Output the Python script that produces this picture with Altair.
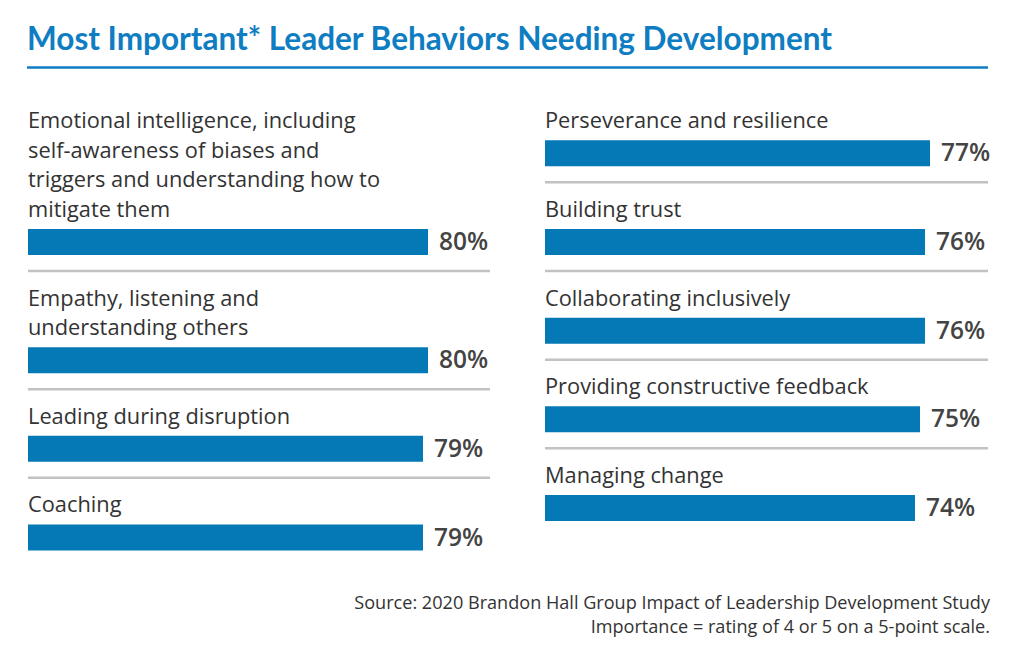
import altair as alt
import pandas as pd

# ---------------- data ----------------
title_text = "Most Important* Leader Behaviors Needing Development"

left_labels = [
    ["Emotional intelligence, including", "self-awareness of biases and",
     "triggers and understanding how to", "mitigate them"],
    ["Empathy, listening and", "understanding others"],
    ["Leading during disruption"],
    ["Coaching"],
]
left_values = [80, 80, 79, 79]

right_labels = [
    ["Perseverance and resilience"],
    ["Building trust"],
    ["Collaborating inclusively"],
    ["Providing constructive feedback"],
    ["Managing change"],
]
right_values = [77, 76, 76, 75, 74]

source_lines = [
    "Source: 2020 Brandon Hall Group Impact of Leadership Development Study",
    "Importance = rating of 4 or 5 on a 5-point scale.",
]

# ---------------- layout (in scale units) ----------------
BLUE = "#0479b6"
TITLE_BLUE = "#0f7dc1"
GRAY_LINE = "#c2c2c2"
TEXT = "#333333"
PCT = "#444444"
TITLE_FONT = "Lato"
BODY_FONT = "Open Sans"

col_offsets = [0.0, 103.4]      # x offset of each column (percent units)
col_widths = [92.4, 88.6]       # separator length of each column

bar_rows, text_rows, sep_rows = [], [], []
for c, (labels, values) in enumerate([(left_labels, left_values), (right_labels, right_values)]):
    s = 0.0
    n_items = len(labels)
    for k, (lines, v) in enumerate(zip(labels, values)):
        n = len(lines)
        for i, ln in enumerate(lines):
            text_rows.append({"x": col_offsets[c], "y": s + i, "t": ln})
        ybar = s + n - 1 + 1.12
        bar_rows.append({"x0": col_offsets[c], "x1": col_offsets[c] + v, "y": ybar,
                         "lab": f"{v}%"})
        if k < n_items - 1:
            sep_rows.append({"x0": col_offsets[c], "x1": col_offsets[c] + col_widths[c],
                             "y": ybar + 0.98})
        s += n + 2

bars_df = pd.DataFrame(bar_rows)
text_df = pd.DataFrame(text_rows)
sep_df = pd.DataFrame(sep_rows)

W, H = 1024, 670
xscale = alt.Scale(domain=[-28 / 5, (W - 28) / 5], nice=False, zero=False)
yscale = alt.Scale(domain=[-117 / 30, (H - 117) / 30], nice=False, zero=False, reverse=True)

X = lambda f: alt.X(f, type="quantitative", scale=xscale, axis=None)
Y = lambda f: alt.Y(f, type="quantitative", scale=yscale, axis=None)

bars = alt.Chart(bars_df).mark_bar(color=BLUE, size=26).encode(
    x=X("x0"), x2="x1", y=Y("y")
)
pct = alt.Chart(bars_df).mark_text(
    align="left", baseline="alphabetic", dx=11, dy=8, font=BODY_FONT, fontWeight=600,
    fontSize=24.5, color=PCT
).encode(x=X("x1"), y=Y("y"), text="lab:N")

labels = alt.Chart(text_df).mark_text(
    align="left", baseline="alphabetic", dy=8, font=BODY_FONT, fontSize=21.8, color=TEXT
).encode(x=X("x"), y=Y("y"), text="t:N")

seps = alt.Chart(sep_df).mark_rule(color=GRAY_LINE, strokeWidth=2.5).encode(
    x=X("x0"), x2="x1", y=Y("y")
)

title = alt.Chart(pd.DataFrame({"t": [title_text]})).mark_text(
    align="left", baseline="alphabetic", font=TITLE_FONT, fontWeight="bold",
    fontSize=31.5, color=TITLE_BLUE
).encode(x=alt.value(27), y=alt.value(50), text="t:N")

underline = alt.Chart(pd.DataFrame({"a": [0]})).mark_rule(
    color=TITLE_BLUE, strokeWidth=2.5
).encode(x=alt.value(27), x2=alt.value(988), y=alt.value(67.5))

src_layers = []
for i, ln in enumerate(source_lines):
    src_layers.append(
        alt.Chart(pd.DataFrame({"t": [ln]})).mark_text(
            align="right", baseline="alphabetic", font=BODY_FONT, fontSize=18.1, color=TEXT
        ).encode(x=alt.value(990), y=alt.value(609 + 24 * i), text="t:N")
    )

chart = alt.layer(seps, bars, pct, labels, title, underline, *src_layers).properties(
    width=W, height=H, autosize=alt.AutoSizeParams(type="none"), padding=0,
    background="white"
).configure_view(stroke=None)

chart.save("out.html", embed_options={"renderer": "svg", "actions": False})
